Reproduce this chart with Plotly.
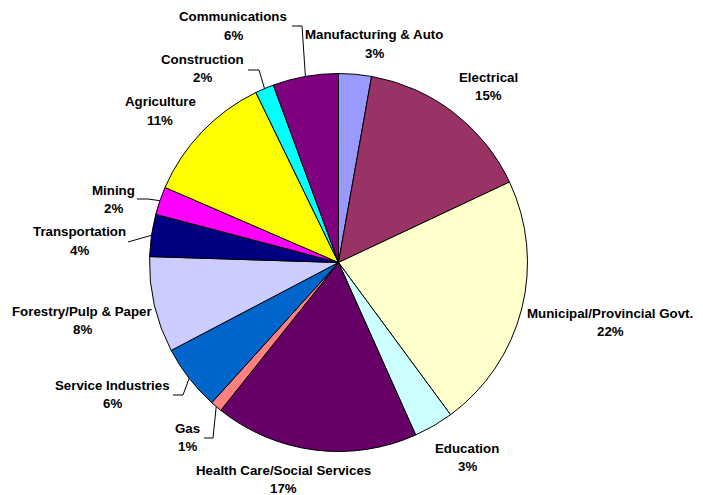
import math
import plotly.graph_objects as go

# ---- data ----
sectors = ["Manufacturing & Auto", "Electrical", "Municipal/Provincial Govt.", "Education",
           "Health Care/Social Services", "Gas", "Service Industries", "Forestry/Pulp & Paper",
           "Transportation", "Mining", "Agriculture", "Construction", "Communications"]
shares = [2.8, 15.2, 21.9, 3.4, 17.4, 1.0, 5.6, 8.2, 3.6, 2.4, 11.3, 1.6, 5.6]
colors = ["#9999FF", "#993366", "#FFFFCC", "#CCFFFF", "#660066", "#FF8080", "#0066CC",
          "#CCCCFF", "#000080", "#FF00FF", "#FFFF00", "#00FFFF", "#800080"]

# ---- layout (pixel geometry, in page pixels; page has an 8px body margin) ----
OFF = 8
W, H = 703 - OFF, 495 - OFF
CX, CY, R = 338.5, 262.5, 189
label_pos = {
    "Manufacturing & Auto": (374, 44), "Electrical": (488, 86),
    "Municipal/Provincial Govt.": (610, 322), "Education": (467, 457),
    "Health Care/Social Services": (283, 479), "Gas": (187, 437),
    "Service Industries": (112, 394), "Forestry/Pulp & Paper": (82, 320),
    "Transportation": (79, 241), "Mining": (113, 199), "Agriculture": (160, 111),
    "Construction": (202, 68), "Communications": (233, 26),
}
leaders = {
    "Communications": [(292, 26), (302, 26)],
    "Construction": [(248, 70), (259, 70)],
    "Mining": [(137, 199), (148, 199)],
    "Transportation": [(128, 242)],
    "Service Industries": [(173, 395), (183, 395)],
    "Gas": [(204, 438), (213, 438)],
}

def px(x, y):
    return (x - OFF) / W, 1 - (y - OFF) / H

x0, y1 = px(CX - R, CY - R)
x1, y0 = px(CX + R, CY + R)
fig = go.Figure(go.Pie(
    labels=sectors, values=shares, sort=False, direction="clockwise", rotation=0,
    marker=dict(colors=colors, line=dict(color="black", width=1)),
    textinfo="none", hoverinfo="label+percent", showlegend=False,
    domain=dict(x=[x0, x1], y=[y0, y1]),
))

total = sum(shares)
annotations = []
shapes = []
cum = 0
for name, v in zip(sectors, shares):
    mid = (cum + v / 2) / total * 2 * math.pi
    cum += v
    lx, ly = label_pos[name]
    pct = round(v / total * 100)
    for txt, dy in ((name, -9), (f"{pct}%", 9.5)):
        ax, ay = px(lx, ly + dy)
        annotations.append(dict(x=ax, y=ay, xref="paper", yref="paper", text=f"<b>{txt}</b>",
                                showarrow=False, xanchor="center", yanchor="middle",
                                font=dict(family="Liberation Sans, Arial", size=13.3, color="black")))
    if name in leaders:
        pts = list(leaders[name]) + [(CX + R * math.sin(mid), CY - R * math.cos(mid))]
        path = "M " + " L ".join(f"{px(x, y)[0]},{px(x, y)[1]}" for x, y in pts)
        shapes.append(dict(type="path", path=path, xref="paper", yref="paper",
                           line=dict(color="black", width=1)))

fig.update_layout(width=W, height=H, margin=dict(l=0, r=0, t=0, b=0),
                  paper_bgcolor="white", plot_bgcolor="white",
                  annotations=annotations, shapes=shapes)
fig.write_html("out.html")
